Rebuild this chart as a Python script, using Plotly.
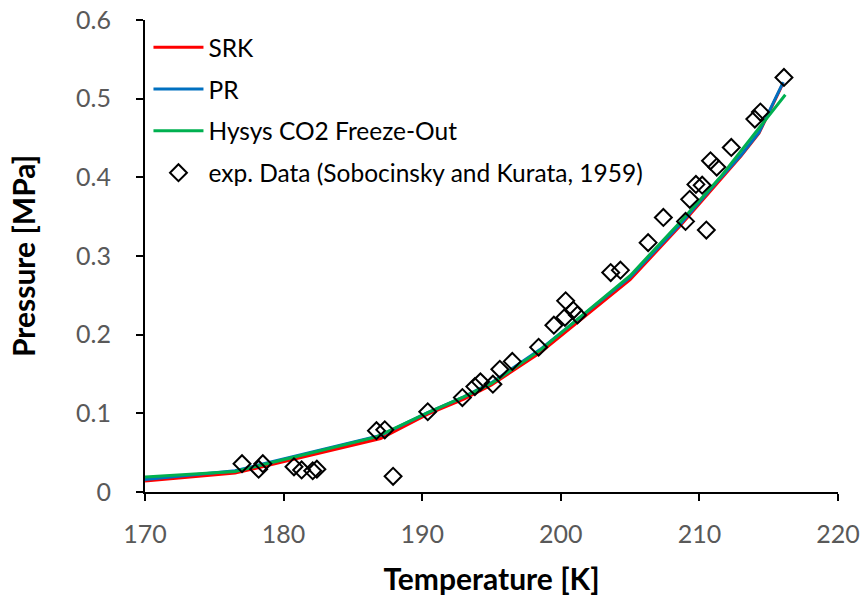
import plotly.graph_objects as go

# Model curves
t_srk = [170, 176.5, 187.0, 190.4, 193.0, 195.0, 198.5, 201.5, 205.0, 208.6, 211.5, 213.0, 214.3, 216.05]
p_srk = [0.014, 0.024, 0.068, 0.099, 0.118, 0.136, 0.177, 0.220, 0.270, 0.338, 0.397, 0.427, 0.456, 0.520]

t_pr = [170, 176.5, 187.0, 190.4, 193.0, 195.0, 198.5, 201.5, 205.0, 208.6, 211.5, 213.0, 214.3, 216.05]
p_pr = [0.016, 0.027, 0.072, 0.101, 0.121, 0.139, 0.181, 0.223, 0.273, 0.340, 0.399, 0.428, 0.457, 0.521]

t_hysys = [170, 176.5, 186.7, 190.4, 193.0, 195.0, 198.5, 201.5, 205.0, 208.6, 211.5, 216.2]
p_hysys = [0.019, 0.026, 0.070, 0.101, 0.121, 0.138, 0.180, 0.224, 0.275, 0.343, 0.400, 0.505]

# Experimental data (Sobocinsky and Kurata, 1959)
t_exp = [177.0, 178.2, 178.5, 180.75, 181.3, 182.1, 182.4, 186.7, 187.3, 187.9, 190.4,
         192.9, 193.8, 194.2, 195.1, 195.6, 196.5, 198.4, 199.5, 200.3, 200.35, 200.9, 201.2,
         203.6, 204.3, 206.3, 207.4, 209.0, 209.3, 209.75, 210.2, 210.5, 210.8, 211.25,
         212.3, 214.0, 214.4, 216.1]
p_exp = [0.036, 0.029, 0.036, 0.032, 0.028, 0.027, 0.029, 0.078, 0.079, 0.020, 0.102,
         0.120, 0.134, 0.140, 0.137, 0.156, 0.166, 0.184, 0.212, 0.222, 0.243, 0.231, 0.225,
         0.279, 0.282, 0.317, 0.349, 0.344, 0.372, 0.391, 0.390, 0.333, 0.421, 0.413,
         0.438, 0.474, 0.483, 0.527]

x_ticks = [170, 180, 190, 200, 210, 220]
y_ticks = [0, 0.1, 0.2, 0.3, 0.4, 0.5, 0.6]
y_tick_text = ["0", "0.1", "0.2", "0.3", "0.4", "0.5", "0.6"]

FONT = "Lato, 'Open Sans', sans-serif"

fig = go.Figure()
fig.add_trace(go.Scatter(x=t_srk, y=p_srk, mode="lines", name="SRK",
                         line=dict(color="#FF0000", width=3), legendgroup="a"))
fig.add_trace(go.Scatter(x=t_pr, y=p_pr, mode="lines", name="PR",
                         line=dict(color="#0070C0", width=3), legendgroup="b"))
fig.add_trace(go.Scatter(x=t_hysys, y=p_hysys, mode="lines", name="Hysys CO2 Freeze-Out",
                         line=dict(color="#00B050", width=3), legendgroup="c"))
fig.add_trace(go.Scatter(x=t_exp, y=p_exp, mode="markers",
                         name="exp. Data (Sobocinsky and Kurata, 1959)",
                         marker=dict(symbol="diamond-open", size=13, color="black",
                                     line=dict(color="black", width=2)),
                         legendgroup="d"))

fig.update_layout(
    width=860, height=603,
    margin=dict(l=145, r=22, t=20, b=111, autoexpand=False),
    paper_bgcolor="white", plot_bgcolor="white",
    font=dict(family=FONT, size=24, color="black"),
    legend=dict(x=0.005, y=0.99, xanchor="left", yanchor="top",
                bgcolor="rgba(0,0,0,0)", font=dict(size=24.5, color="black"),
                traceorder="grouped", tracegroupgap=7, itemwidth=50),
    showlegend=True,
)
fig.update_xaxes(range=[170, 220], tickvals=x_ticks, ticks="outside", ticklen=7,
                 tickwidth=2, tickcolor="black", showline=True, linecolor="black",
                 linewidth=2, showgrid=False, zeroline=False, automargin=False,
                 ticklabelstandoff=12,
                 tickfont=dict(size=25, color="#595959", family=FONT),
                 title=dict(text="<b>Temperature [K]</b>", font=dict(size=30, color="black", family=FONT),
                            standoff=22))
fig.update_yaxes(range=[0, 0.6], tickvals=y_ticks, ticktext=y_tick_text, ticks="outside",
                 ticklen=7, tickwidth=2, tickcolor="black", showline=True, linecolor="black",
                 linewidth=2, showgrid=False, zeroline=False, automargin=False,
                 ticklabelstandoff=20,
                 tickfont=dict(size=25, color="#595959", family=FONT),
                 title=dict(text="<b>Pressure [MPa]</b>", font=dict(size=30, color="black", family=FONT),
                            standoff=32))

fig.write_html("out.html", config={"displayModeBar": False},
               post_script="document.body.style.margin='0';")
